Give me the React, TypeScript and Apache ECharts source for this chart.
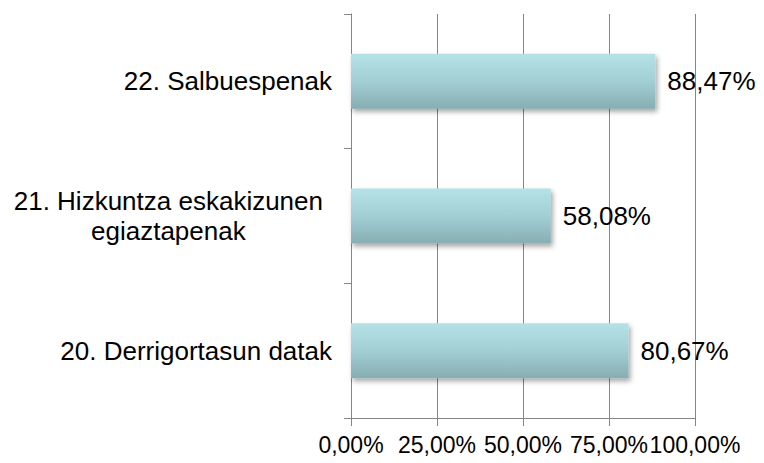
import React, { useEffect, useRef } from "react";
import * as echarts from "echarts";

const categories = [
  "20. Derrigortasun datak",
  "21. Hizkuntza eskakizunen\negiaztapenak",
  "22. Salbuespenak",
];
const values = [80.67, 58.08, 88.47];
const xTicks = [0, 25, 50, 75, 100];

const FONT = "'Liberation Sans', Arial, sans-serif";
const fmt = (v: number) => v.toFixed(2).replace(".", ",") + "%";

export default function App() {
  const ref = useRef<HTMLDivElement>(null);
  useEffect(() => {
    if (!ref.current) return;
    const chart = echarts.init(ref.current, undefined, { renderer: "svg" });
    const labelStyle = {
      align: "center",
      color: "#000",
      fontFamily: FONT,
      fontSize: 26,
      lineHeight: 30,
    };
    chart.setOption({
      animation: false,
      backgroundColor: "#ffffff",
      grid: { left: 351, right: 69, top: 14, bottom: 45, containLabel: false },
      xAxis: {
        type: "value",
        min: xTicks[0],
        max: xTicks[xTicks.length - 1],
        interval: 25,
        axisLine: { show: true, lineStyle: { color: "#868686", width: 1 } },
        axisTick: { show: true, length: 8, lineStyle: { color: "#868686" } },
        splitLine: { show: true, lineStyle: { color: "#868686", width: 1 } },
        axisLabel: {
          formatter: (v: number) => fmt(v),
          color: "#000",
          fontFamily: FONT,
          fontSize: 23,
          margin: 15,
          hideOverlap: false,
          showMinLabel: true,
          showMaxLabel: true,
        },
      },
      yAxis: {
        type: "category",
        data: categories,
        axisLine: { show: true, lineStyle: { color: "#868686", width: 1 } },
        axisTick: { show: true, length: 7, lineStyle: { color: "#868686" } },
        axisLabel: {
          margin: 19,
          formatter: (v: string) => (v.indexOf("\n") >= 0 ? `{m|${v}}` : `{c|${v}}`),
          rich: {
            c: labelStyle,
            m: { ...labelStyle, padding: [0, 9, 0, 0] },
          },
        },
      },
      series: [
        {
          type: "bar",
          data: values,
          barWidth: 55,
          itemStyle: {
            color: new echarts.graphic.LinearGradient(0, 0, 0, 1, [
              { offset: 0, color: "#b4e2e7" },
              { offset: 0.5, color: "#a2cfd4" },
              { offset: 1, color: "#87adb2" },
            ]),
            shadowColor: "rgba(0,0,0,0.35)",
            shadowBlur: 5,
            shadowOffsetX: 2,
            shadowOffsetY: 3,
          },
          label: {
            show: true,
            position: "right",
            distance: 12,
            formatter: (p: any) => fmt(p.value),
            color: "#000",
            fontFamily: FONT,
            fontSize: 26,
          },
        },
      ],
    });
    return () => chart.dispose();
  }, []);
  return (
    <div
      ref={ref}
      style={{ position: "fixed", left: 0, top: 0, width: 764, height: 463 }}
    />
  );
}
